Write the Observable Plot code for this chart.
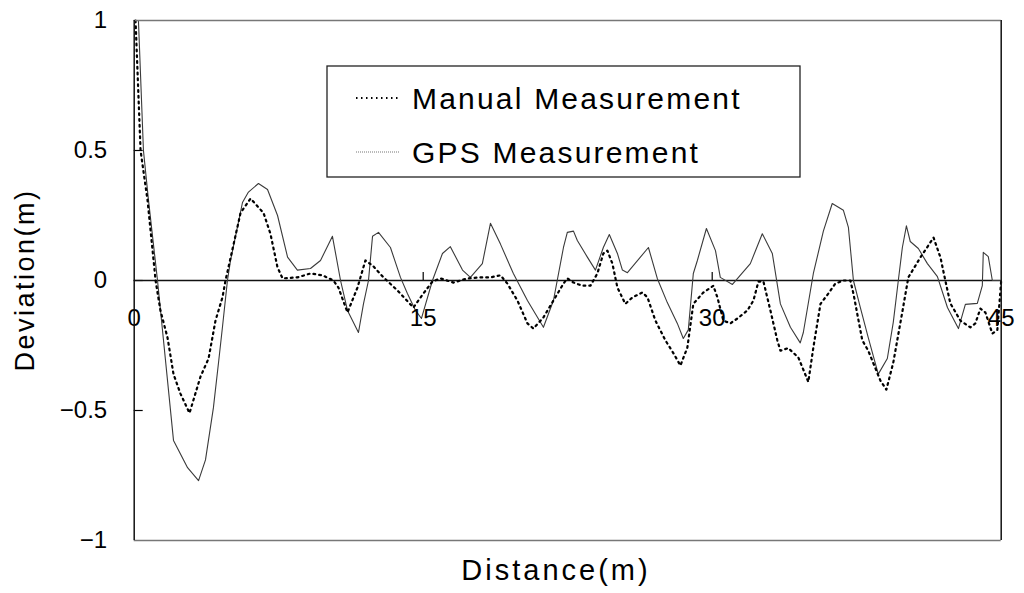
<!DOCTYPE html>
<html>
<head>
<meta charset="utf-8">
<script src="https://cdn.jsdelivr.net/npm/d3@7"></script>
<script src="https://cdn.jsdelivr.net/npm/@observablehq/plot@0.6"></script>
<style>
  html, body { margin: 0; padding: 0; background: #fff; }
  #chart { position: relative; width: 1024px; height: 593px; }
  svg { display: block; }
</style>
</head>
<body>
<div id="chart"></div>
<script>
// Distance (m) and deviation (m)
const gpsX = [0.22,0.48,0.74,1.21,2.04,2.77,3.34,3.70,4.11,4.37,4.58,4.84,5.00,5.62,5.93,6.45,6.92,7.44,7.96,8.47,9.15,9.67,10.29,10.71,11.07,11.64,11.90,12.16,12.37,12.68,13.30,13.82,14.18,14.60,14.91,15.48,16.00,16.41,17.04,17.45,18.07,18.49,19.01,19.68,20.41,21.24,21.76,22.28,22.48,22.80,23.00,23.52,23.94,24.35,24.66,25.08,25.34,25.60,26.69,27.15,27.67,28.19,28.50,28.76,29.02,29.23,29.70,30.17,30.42,31.05,31.98,32.60,33.12,33.54,34.06,34.57,34.73,35.25,35.77,36.23,36.81,37.07,37.33,37.69,38.10,38.62,39.09,39.40,39.66,39.87,40.08,40.28,40.70,41.17,41.69,42.21,42.78,43.14,43.76,44.02,44.07,44.33,44.54,45.0];
const gpsY = [1.00,0.50,0.31,0,-0.615,-0.72,-0.77,-0.69,-0.49,-0.32,-0.18,0,0.077,0.30,0.34,0.373,0.35,0.25,0.09,0.04,0.046,0.077,0.17,0,-0.115,-0.20,-0.09,0,0.17,0.185,0.127,0.012,-0.05,-0.115,-0.146,0,0.104,0.13,0.04,0.012,0.065,0.22,0.14,0.027,-0.077,-0.18,-0.077,0.127,0.185,0.19,0.154,0.09,0.04,0.127,0.177,0.104,0.04,0.03,0.127,0.008,-0.085,-0.165,-0.223,-0.19,0.027,0.077,0.20,0.115,0.012,-0.015,0.065,0.18,0.104,-0.09,-0.18,-0.24,-0.20,0.027,0.19,0.296,0.27,0.204,0,-0.104,-0.22,-0.36,-0.30,-0.16,0,0.127,0.21,0.15,0.123,0.065,0.015,-0.104,-0.185,-0.092,-0.088,-0.02,0.108,0.092,0,0];

const manualX = [0.07,0.33,0.69,1.11,1.36,1.73,2.04,2.40,2.87,3.44,3.86,4.22,4.58,4.74,4.89,5.52,6.04,6.71,7.07,7.44,7.70,8.47,9.15,9.77,10.34,10.60,11.07,11.59,12.00,12.37,12.94,13.66,14.49,15.01,15.48,15.90,16.57,17.30,17.97,18.49,19.01,19.37,19.89,20.41,20.72,21.24,21.76,22.28,22.48,22.80,23.26,23.68,24.04,24.35,24.56,24.82,25.08,25.49,25.86,26.38,26.64,27.05,27.57,27.99,28.35,28.71,29.02,29.54,30.06,30.27,30.58,30.94,31.31,31.83,32.14,32.40,32.66,33.02,33.38,33.54,33.95,34.47,34.99,35.25,35.62,36.03,36.39,36.81,37.17,37.33,37.79,38.10,38.73,39.04,39.40,39.87,40.18,40.80,41.49,41.85,42.10,42.36,42.88,43.40,43.66,43.92,44.18,44.54,44.80,45.0];
const manualY = [1.00,0.50,0.31,0,-0.115,-0.22,-0.36,-0.435,-0.51,-0.37,-0.30,-0.154,-0.065,0,0.05,0.26,0.315,0.26,0.18,0.05,0.008,0.012,0.027,0.02,0,-0.027,-0.123,-0.027,0.077,0.058,0.012,-0.038,-0.104,-0.05,-0.004,0.008,-0.008,0.008,0.012,0.012,0.02,-0.012,-0.077,-0.165,-0.185,-0.142,-0.077,-0.012,0.008,-0.008,-0.02,-0.02,0.027,0.104,0.115,0.065,-0.027,-0.09,-0.065,-0.046,-0.065,-0.154,-0.23,-0.28,-0.327,-0.258,-0.09,-0.046,-0.02,-0.065,-0.154,-0.165,-0.146,-0.115,-0.077,-0.004,-0.004,-0.115,-0.23,-0.27,-0.26,-0.296,-0.39,-0.258,-0.09,-0.05,-0.012,0,0,-0.05,-0.23,-0.27,-0.385,-0.42,-0.315,-0.12,0.012,0.088,0.165,0.088,0,-0.088,-0.154,-0.18,-0.165,-0.108,-0.123,-0.204,-0.19,0];

const xTicks = [0, 15, 30, 45];
const yTicks = [-1, -0.5, 0, 0.5, 1];
const xDomain = [0, 45];
const yDomain = [-1, 1];
const seriesNames = ["Manual Measurement", "GPS Measurement"];
const xLabel = "Distance(m)";
const yLabel = "Deviation(m)";

const gps = gpsX.map((x, i) => ({x, y: gpsY[i]}));
const manual = manualX.map((x, i) => ({x, y: manualY[i]}));

const FONT = "'Liberation Sans', Arial, Helvetica, sans-serif";
const mL = 133.7, mR = 23.3, mT = 20, mB = 53;
const W = 1024, H = 593;
const pxX = 19.27, pxY = 260; // pixels per data unit (for tick lengths)

const chart = Plot.plot({
  width: W,
  height: H,
  marginLeft: mL,
  marginRight: mR,
  marginTop: mT,
  marginBottom: mB,
  style: {fontFamily: FONT, background: "#fff", color: "#000"},
  x: {domain: xDomain, axis: null},
  y: {domain: yDomain, axis: null},
  marks: [
    Plot.axisY(yTicks, {
      label: null, tickSize: 0, tickPadding: 27, fontSize: 24, fill: "#000",
      tickFormat: d => d < 0 ? "\u2212" + Math.abs(d) : String(d)
    }),
    Plot.ruleY(yTicks.filter(d => Math.abs(d) < 1), {x1: 0, x2: 9 / pxX, stroke: "#000", strokeWidth: 1.2}),
    Plot.ruleY([0], {stroke: "#111", strokeWidth: 1.4}),
    Plot.ruleX(xTicks.filter(d => d > 0 && d < 45), {y1: 0, y2: 8 / pxY, stroke: "#000", strokeWidth: 1.2}),
    Plot.line(gps, {x: "x", y: "y", stroke: "#3a3a3a", strokeWidth: 1.1}),
    Plot.line(manual, {x: "x", y: "y", stroke: "#000", strokeWidth: 2.2, strokeDasharray: "1.8,4"}),
    Plot.text(xTicks, {x: d => d, y: 0, dy: 38, text: d => String(d), fontSize: 24, fill: "#000"}),
    // frame: grey top/bottom, black left/right
    Plot.ruleY(yDomain, {stroke: "#777", strokeWidth: 1.3}),
    Plot.ruleX(xDomain, {stroke: "#111", strokeWidth: 1.5})
  ]
});

document.getElementById("chart").appendChild(chart);
const svg = d3.select(chart);

// Axis titles
svg.append("text")
  .attr("x", 556)
  .attr("y", 580)
  .attr("text-anchor", "middle")
  .attr("font-family", FONT)
  .attr("font-size", 29)
  .attr("letter-spacing", 3)
  .attr("fill", "#000")
  .text(xLabel);

svg.append("text")
  .attr("transform", `translate(34,${(mT + H - mB) / 2}) rotate(-90)`)
  .attr("text-anchor", "middle")
  .attr("font-family", FONT)
  .attr("font-size", 27)
  .attr("letter-spacing", 2.5)
  .attr("fill", "#000")
  .text(yLabel);

// Legend box
const lg = svg.append("g");
lg.append("rect")
  .attr("x", 327).attr("y", 66).attr("width", 473).attr("height", 111)
  .attr("fill", "#fff").attr("stroke", "#222").attr("stroke-width", 1.3);
const rows = [
  {name: seriesNames[0], y: 98, stroke: "#000", w: 2, dash: "1.5,3.5"},
  {name: seriesNames[1], y: 152, stroke: "#777", w: 1.2, dash: "1,1"}
];
rows.forEach(r => {
  lg.append("line")
    .attr("x1", 356).attr("x2", 400).attr("y1", r.y).attr("y2", r.y)
    .attr("stroke", r.stroke).attr("stroke-width", r.w).attr("stroke-dasharray", r.dash);
  lg.append("text")
    .attr("x", 412).attr("y", r.y)
    .attr("dy", "0.36em")
    .attr("text-anchor", "start")
    .attr("font-family", FONT)
    .attr("font-size", 30)
    .attr("letter-spacing", 2.2)
    .attr("fill", "#000")
    .text(r.name);
});
</script>
</body>
</html>
